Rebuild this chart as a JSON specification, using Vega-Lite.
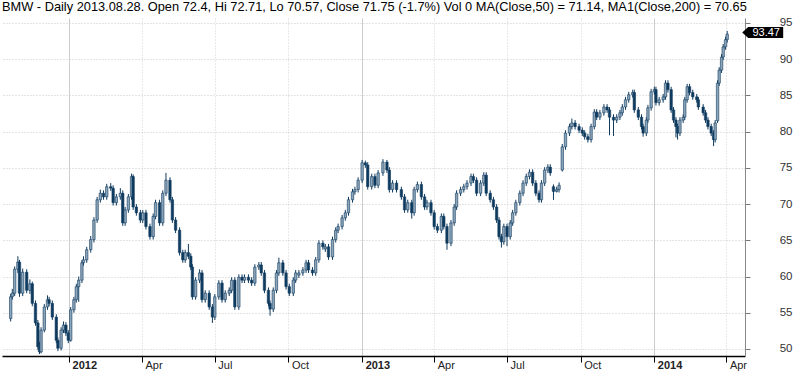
{
"$schema": "https://vega.github.io/schema/vega-lite/v6.json",
"width": 743, "height": 338,
"autosize": {"type": "none"},
"padding": {"left": 2, "top": 18, "right": 55, "bottom": 17},
"background": "white",
"title": {"text": "BMW - Daily 2013.08.28. Open 72.4, Hi 72.71, Lo 70.57, Close 71.75 (-1.7%) Vol 0 MA(Close,50) = 71.14, MA1(Close,200) = 70.65", "anchor": "start", "frame": "group", "font": "Liberation Sans", "fontSize": 12.8, "fontWeight": "normal", "color": "#000000", "offset": 3},
"config": {"view": {"stroke": null}, "axis": {"labelFont": "Liberation Sans", "labelFontSize": 11}},
"data": {"values": [
{"d":"2011-10-20","o":54.2,"h":57.6,"l":53.8,"c":57.2},
{"d":"2011-10-22","o":57.2,"h":58.3,"l":56.8,"c":57.7},
{"d":"2011-10-25","o":57.7,"h":61.4,"l":57.3,"c":61},
{"d":"2011-10-29","o":61,"h":62.8,"l":60.5,"c":62},
{"d":"2011-10-31","o":62,"h":62.3,"l":57.2,"c":57.7},
{"d":"2011-11-04","o":57.7,"h":61.1,"l":57.3,"c":60.6},
{"d":"2011-11-09","o":60.6,"h":61,"l":57.7,"c":58.1},
{"d":"2011-11-13","o":58.1,"h":59.6,"l":57.6,"c":59},
{"d":"2011-11-16","o":59,"h":59.3,"l":55.9,"c":56.3},
{"d":"2011-11-20","o":56.3,"h":56.7,"l":53.2,"c":53.6},
{"d":"2011-11-23","o":53.6,"h":54,"l":49.9,"c":50.3},
{"d":"2011-11-25","o":50.3,"h":51,"l":49.3,"c":49.6},
{"d":"2011-11-27","o":49.6,"h":53,"l":49.4,"c":52.6},
{"d":"2011-12-01","o":52.6,"h":56.2,"l":52.3,"c":55.8},
{"d":"2011-12-05","o":55.8,"h":57.4,"l":55.4,"c":56.8},
{"d":"2011-12-07","o":56.8,"h":57.2,"l":55.9,"c":56.3},
{"d":"2011-12-11","o":56.3,"h":56.7,"l":54,"c":54.4},
{"d":"2011-12-16","o":54.4,"h":54.8,"l":50.8,"c":51.2},
{"d":"2011-12-18","o":51.2,"h":51.6,"l":49.7,"c":50.1},
{"d":"2011-12-22","o":50.1,"h":53,"l":49.8,"c":52.6},
{"d":"2011-12-25","o":52.6,"h":53.8,"l":52.2,"c":53.3},
{"d":"2011-12-28","o":53.3,"h":53.7,"l":51.8,"c":52.2},
{"d":"2011-12-31","o":52.2,"h":52.6,"l":50.8,"c":51.2},
{"d":"2012-01-03","o":51.2,"h":55.8,"l":51,"c":55.4},
{"d":"2012-01-07","o":55.4,"h":57.2,"l":55,"c":56.8},
{"d":"2012-01-10","o":56.8,"h":59,"l":56.4,"c":58.6},
{"d":"2012-01-13","o":58.6,"h":60,"l":56.5,"c":59.5},
{"d":"2012-01-17","o":59.5,"h":62.3,"l":59.1,"c":61.9},
{"d":"2012-01-19","o":61.9,"h":62.8,"l":61.5,"c":62.3},
{"d":"2012-01-23","o":62.3,"h":64.1,"l":61.9,"c":63.7},
{"d":"2012-01-28","o":63.7,"h":65.6,"l":63.3,"c":65.1},
{"d":"2012-02-01","o":65.1,"h":68.2,"l":64.7,"c":67.8},
{"d":"2012-02-05","o":67.8,"h":71,"l":67.4,"c":70.6},
{"d":"2012-02-09","o":70.6,"h":72,"l":70.2,"c":71.5},
{"d":"2012-02-13","o":71.5,"h":71.9,"l":70.6,"c":71},
{"d":"2012-02-17","o":71,"h":72.8,"l":70.6,"c":72.4},
{"d":"2012-02-22","o":72.4,"h":72.9,"l":71.8,"c":72.2},
{"d":"2012-02-25","o":72.2,"h":72.6,"l":69.8,"c":70.2},
{"d":"2012-02-29","o":70.2,"h":71.4,"l":69.8,"c":71},
{"d":"2012-03-05","o":71,"h":72.2,"l":70.6,"c":71.5},
{"d":"2012-03-08","o":71.5,"h":71.9,"l":67,"c":67.4},
{"d":"2012-03-11","o":67.4,"h":69.6,"l":67,"c":69.2},
{"d":"2012-03-15","o":69.2,"h":71.4,"l":68.8,"c":71},
{"d":"2012-03-19","o":71,"h":74.2,"l":70.6,"c":73.8},
{"d":"2012-03-21","o":73.8,"h":74.1,"l":69.2,"c":69.6},
{"d":"2012-03-25","o":69.6,"h":70,"l":68.4,"c":68.8},
{"d":"2012-03-30","o":68.8,"h":69.2,"l":67.4,"c":67.8},
{"d":"2012-04-02","o":67.8,"h":69.2,"l":67.4,"c":68.8},
{"d":"2012-04-06","o":68.8,"h":69.2,"l":66.5,"c":66.9},
{"d":"2012-04-11","o":66.9,"h":67.3,"l":65.1,"c":65.5},
{"d":"2012-04-15","o":65.5,"h":68.7,"l":65.1,"c":68.3},
{"d":"2012-04-18","o":68.3,"h":70.6,"l":67.9,"c":70.2},
{"d":"2012-04-23","o":70.2,"h":70.6,"l":67,"c":67.4},
{"d":"2012-04-27","o":67.4,"h":71.9,"l":67,"c":71.5},
{"d":"2012-05-01","o":71.5,"h":74.3,"l":71.1,"c":73.3},
{"d":"2012-05-06","o":73.3,"h":73.7,"l":70.2,"c":70.6},
{"d":"2012-05-09","o":70.6,"h":71,"l":67.4,"c":67.8},
{"d":"2012-05-13","o":67.8,"h":68.2,"l":66,"c":66.4},
{"d":"2012-05-18","o":66.4,"h":66.8,"l":62.9,"c":63.3},
{"d":"2012-05-22","o":63.3,"h":63.7,"l":61.9,"c":62.3},
{"d":"2012-05-25","o":62.3,"h":63.7,"l":61.9,"c":63.3},
{"d":"2012-05-29","o":63.3,"h":64.5,"l":62.4,"c":62.8},
{"d":"2012-06-01","o":62.8,"h":63.2,"l":60.9,"c":61.3},
{"d":"2012-06-03","o":61.3,"h":61.7,"l":56.8,"c":57.2},
{"d":"2012-06-07","o":57.2,"h":59.9,"l":56.8,"c":59.5},
{"d":"2012-06-12","o":59.5,"h":61,"l":59.1,"c":60.5},
{"d":"2012-06-15","o":60.5,"h":60.9,"l":56.4,"c":56.8},
{"d":"2012-06-19","o":56.8,"h":58.1,"l":56.4,"c":57.7},
{"d":"2012-06-24","o":57.7,"h":58.1,"l":55.4,"c":55.8},
{"d":"2012-06-28","o":55.8,"h":56.2,"l":53.6,"c":54.4},
{"d":"2012-07-01","o":54.4,"h":57.6,"l":54,"c":57.2},
{"d":"2012-07-06","o":57.2,"h":59.5,"l":56.8,"c":59.1},
{"d":"2012-07-10","o":59.1,"h":59.5,"l":56.4,"c":56.8},
{"d":"2012-07-14","o":56.8,"h":58.1,"l":56.4,"c":57.7},
{"d":"2012-07-19","o":57.7,"h":58.5,"l":57.3,"c":58.1},
{"d":"2012-07-22","o":58.1,"h":59.9,"l":57.7,"c":59.5},
{"d":"2012-07-26","o":59.5,"h":59.9,"l":55.4,"c":55.8},
{"d":"2012-07-31","o":55.8,"h":60.3,"l":55.4,"c":59.9},
{"d":"2012-08-04","o":59.9,"h":60.3,"l":59.1,"c":59.5},
{"d":"2012-08-07","o":59.5,"h":60.3,"l":59.1,"c":59.9},
{"d":"2012-08-12","o":59.9,"h":60.3,"l":59.1,"c":59.5},
{"d":"2012-08-16","o":59.5,"h":59.9,"l":58.7,"c":59.1},
{"d":"2012-08-20","o":59.1,"h":61.7,"l":58.7,"c":61.3},
{"d":"2012-08-25","o":61.3,"h":62,"l":60.9,"c":61.6},
{"d":"2012-08-28","o":61.6,"h":62,"l":60.1,"c":60.5},
{"d":"2012-09-01","o":60.5,"h":60.9,"l":57.7,"c":58.1},
{"d":"2012-09-06","o":58.1,"h":58.5,"l":55.9,"c":56.3},
{"d":"2012-09-08","o":56.3,"h":56.7,"l":54.6,"c":55.5},
{"d":"2012-09-12","o":55.5,"h":58.5,"l":55.1,"c":58.1},
{"d":"2012-09-16","o":58.1,"h":60.9,"l":57.7,"c":60.5},
{"d":"2012-09-19","o":60.5,"h":62.6,"l":60.1,"c":61.9},
{"d":"2012-09-24","o":61.9,"h":62.3,"l":60.1,"c":60.5},
{"d":"2012-09-28","o":60.5,"h":60.9,"l":58.2,"c":58.6},
{"d":"2012-10-02","o":58.6,"h":59,"l":57.3,"c":57.7},
{"d":"2012-10-07","o":57.7,"h":59.9,"l":57.3,"c":59.5},
{"d":"2012-10-10","o":59.5,"h":60.9,"l":59.1,"c":60.5},
{"d":"2012-10-14","o":60.2,"h":60.9,"l":59.8,"c":60.5},
{"d":"2012-10-19","o":60.5,"h":61.3,"l":60.1,"c":60.9},
{"d":"2012-10-23","o":60.9,"h":62.3,"l":60.5,"c":61.9},
{"d":"2012-10-26","o":61.9,"h":62.3,"l":60.5,"c":60.9},
{"d":"2012-10-31","o":60.9,"h":61.3,"l":60.1,"c":60.5},
{"d":"2012-11-04","o":60.5,"h":62.7,"l":60.1,"c":62.3},
{"d":"2012-11-08","o":62.3,"h":65,"l":61.9,"c":64.6},
{"d":"2012-11-13","o":64.6,"h":65,"l":63.7,"c":64.1},
{"d":"2012-11-16","o":63.8,"h":64.5,"l":63.4,"c":64.1},
{"d":"2012-11-20","o":64.1,"h":64.5,"l":62.3,"c":62.7},
{"d":"2012-11-25","o":62.7,"h":65.5,"l":62.3,"c":65.1},
{"d":"2012-11-29","o":65.1,"h":66.8,"l":64.7,"c":66.4},
{"d":"2012-12-02","o":66.4,"h":67.3,"l":66,"c":66.9},
{"d":"2012-12-07","o":66.9,"h":68.5,"l":66.5,"c":68.1},
{"d":"2012-12-11","o":68.1,"h":69.2,"l":67.7,"c":68.8},
{"d":"2012-12-15","o":68.8,"h":71,"l":68.4,"c":70.6},
{"d":"2012-12-20","o":70.6,"h":72.1,"l":70.2,"c":71.7},
{"d":"2012-12-23","o":71.7,"h":72.4,"l":71.3,"c":72},
{"d":"2012-12-27","o":72,"h":73.7,"l":71.6,"c":73.3},
{"d":"2013-01-01","o":73.3,"h":76.1,"l":72.9,"c":75.7},
{"d":"2013-01-05","o":75.7,"h":76,"l":75,"c":75.4},
{"d":"2013-01-08","o":75.4,"h":75.8,"l":72,"c":72.4},
{"d":"2013-01-13","o":72.4,"h":74.2,"l":72,"c":73.8},
{"d":"2013-01-17","o":73.8,"h":74.2,"l":72.2,"c":72.6},
{"d":"2013-01-21","o":72.6,"h":74.7,"l":72.2,"c":74.3},
{"d":"2013-01-27","o":74.3,"h":76.2,"l":73.9,"c":75.8},
{"d":"2013-02-01","o":75.8,"h":76.1,"l":74.3,"c":74.7},
{"d":"2013-02-04","o":74.7,"h":75.1,"l":71.6,"c":72},
{"d":"2013-02-08","o":72,"h":73.3,"l":71.6,"c":72.9},
{"d":"2013-02-13","o":72.9,"h":73.3,"l":71.6,"c":72},
{"d":"2013-02-19","o":72,"h":72.4,"l":70.6,"c":71},
{"d":"2013-02-23","o":71,"h":71.4,"l":68.8,"c":69.2},
{"d":"2013-02-27","o":69.2,"h":70.6,"l":68.8,"c":70.2},
{"d":"2013-03-04","o":70.2,"h":70.6,"l":68,"c":68.8},
{"d":"2013-03-07","o":68.8,"h":72.4,"l":68.4,"c":72},
{"d":"2013-03-11","o":72,"h":73.1,"l":71.6,"c":72.7},
{"d":"2013-03-16","o":72.7,"h":73.1,"l":70.6,"c":71},
{"d":"2013-03-20","o":71,"h":71.4,"l":69.2,"c":69.6},
{"d":"2013-03-23","o":69.6,"h":70.6,"l":69.2,"c":70.2},
{"d":"2013-03-28","o":70.2,"h":70.6,"l":68.4,"c":68.8},
{"d":"2013-04-01","o":68.8,"h":69.2,"l":66.5,"c":66.9},
{"d":"2013-04-05","o":66.9,"h":67.3,"l":66,"c":66.4},
{"d":"2013-04-10","o":66.4,"h":68.7,"l":66,"c":68.3},
{"d":"2013-04-13","o":68.3,"h":68.7,"l":66.5,"c":66.9},
{"d":"2013-04-17","o":66.9,"h":67.3,"l":63.7,"c":64.6},
{"d":"2013-04-22","o":64.6,"h":67.8,"l":64.2,"c":67.4},
{"d":"2013-04-26","o":67.4,"h":70,"l":67,"c":69.6},
{"d":"2013-04-29","o":69.6,"h":71.9,"l":69.2,"c":71.5},
{"d":"2013-05-04","o":71.5,"h":72.4,"l":71.1,"c":72},
{"d":"2013-05-08","o":72,"h":72.8,"l":71.6,"c":72.4},
{"d":"2013-05-12","o":72.4,"h":73.3,"l":72,"c":72.9},
{"d":"2013-05-17","o":72.9,"h":74.2,"l":72.5,"c":73.8},
{"d":"2013-05-20","o":73.8,"h":74.2,"l":72.9,"c":73.3},
{"d":"2013-05-24","o":73.3,"h":73.7,"l":71.1,"c":71.5},
{"d":"2013-05-29","o":71.5,"h":73.3,"l":71.1,"c":72.9},
{"d":"2013-06-02","o":72.9,"h":74.4,"l":72.5,"c":74},
{"d":"2013-06-05","o":74,"h":74.4,"l":71.1,"c":71.5},
{"d":"2013-06-10","o":71.5,"h":71.9,"l":70.2,"c":70.6},
{"d":"2013-06-14","o":70.6,"h":71,"l":69.2,"c":69.6},
{"d":"2013-06-18","o":69.6,"h":70,"l":67.4,"c":67.8},
{"d":"2013-06-21","o":67.8,"h":68.2,"l":65.1,"c":65.5},
{"d":"2013-06-24","o":65.5,"h":65.9,"l":64,"c":64.8},
{"d":"2013-06-27","o":64.8,"h":67.3,"l":64.4,"c":66.9},
{"d":"2013-07-01","o":66.9,"h":67.3,"l":64.2,"c":65.5},
{"d":"2013-07-05","o":65.5,"h":67.8,"l":65.1,"c":67.4},
{"d":"2013-07-08","o":67.4,"h":69.2,"l":67,"c":68.8},
{"d":"2013-07-12","o":68.8,"h":70.6,"l":68.4,"c":70.2},
{"d":"2013-07-17","o":70.2,"h":71.9,"l":69.8,"c":71.5},
{"d":"2013-07-21","o":71.5,"h":73.3,"l":71.1,"c":72.9},
{"d":"2013-07-25","o":72.9,"h":74.2,"l":72.5,"c":73.8},
{"d":"2013-07-29","o":73.8,"h":74.8,"l":73.4,"c":74.4},
{"d":"2013-08-02","o":74.4,"h":74.8,"l":72.5,"c":72.9},
{"d":"2013-08-06","o":72.9,"h":73.3,"l":71.1,"c":71.5},
{"d":"2013-08-10","o":71.5,"h":71.9,"l":70.2,"c":70.6},
{"d":"2013-08-13","o":70.6,"h":73.3,"l":70.2,"c":72.9},
{"d":"2013-08-17","o":72.9,"h":75.1,"l":72.5,"c":74.7},
{"d":"2013-08-21","o":74.7,"h":75.5,"l":74.3,"c":75.1},
{"d":"2013-08-24","o":75.1,"h":75.5,"l":73.9,"c":74.3},
{"d":"2013-08-28","o":72.4,"h":72.71,"l":70.57,"c":71.75},
{"d":"2013-09-01","o":71.75,"h":72.4,"l":71.6,"c":72},
{"d":"2013-09-04","o":72,"h":73,"l":71.6,"c":72.6},
{"d":"2013-09-08","o":74.7,"h":78.3,"l":74.5,"c":77.9},
{"d":"2013-09-12","o":77.9,"h":80.2,"l":77.5,"c":79.8},
{"d":"2013-09-17","o":79.8,"h":81.1,"l":79.4,"c":80.7},
{"d":"2013-09-20","o":80.7,"h":81.8,"l":80.3,"c":81.2},
{"d":"2013-09-24","o":81.2,"h":81.6,"l":80.3,"c":80.7},
{"d":"2013-09-29","o":80.7,"h":81.1,"l":79.8,"c":80.2},
{"d":"2013-10-03","o":80.2,"h":80.6,"l":79.4,"c":79.8},
{"d":"2013-10-06","o":79.8,"h":80.2,"l":78.9,"c":79.3},
{"d":"2013-10-10","o":79.3,"h":79.7,"l":78.5,"c":78.9},
{"d":"2013-10-14","o":78.9,"h":81.1,"l":78.5,"c":80.7},
{"d":"2013-10-18","o":80.7,"h":83.1,"l":80.3,"c":82.7},
{"d":"2013-10-21","o":82.7,"h":83.1,"l":81.6,"c":82},
{"d":"2013-10-25","o":82,"h":83,"l":81.6,"c":82.6},
{"d":"2013-10-30","o":82.6,"h":83.8,"l":82.2,"c":83.4},
{"d":"2013-11-03","o":83.4,"h":83.8,"l":82.6,"c":83},
{"d":"2013-11-06","o":83,"h":83.4,"l":79.5,"c":82},
{"d":"2013-11-11","o":82,"h":82.4,"l":79.4,"c":81.6},
{"d":"2013-11-15","o":81.6,"h":82.4,"l":81.2,"c":82},
{"d":"2013-11-19","o":82,"h":83,"l":81.6,"c":82.6},
{"d":"2013-11-22","o":82.6,"h":83.8,"l":82.2,"c":83.4},
{"d":"2013-11-26","o":83.4,"h":84.8,"l":83,"c":84.4},
{"d":"2013-11-30","o":84.4,"h":85.5,"l":84,"c":85.1},
{"d":"2013-12-05","o":85.1,"h":85.8,"l":84.7,"c":85.4},
{"d":"2013-12-07","o":85.4,"h":85.8,"l":82.6,"c":83},
{"d":"2013-12-12","o":83,"h":83.4,"l":81.6,"c":82},
{"d":"2013-12-16","o":82,"h":82.4,"l":80.3,"c":80.7},
{"d":"2013-12-18","o":80.7,"h":81.1,"l":79.3,"c":79.8},
{"d":"2013-12-22","o":79.8,"h":82,"l":79.4,"c":81.6},
{"d":"2013-12-24","o":81.6,"h":83.7,"l":81.2,"c":83.3},
{"d":"2013-12-28","o":83.3,"h":85.9,"l":82.9,"c":85.5},
{"d":"2014-01-01","o":85.5,"h":86.2,"l":85.1,"c":85.8},
{"d":"2014-01-03","o":85.8,"h":86.2,"l":83.6,"c":84},
{"d":"2014-01-07","o":84,"h":84.8,"l":83.6,"c":84.4},
{"d":"2014-01-12","o":84.4,"h":85.2,"l":84,"c":84.8},
{"d":"2014-01-15","o":84.8,"h":87.1,"l":84.4,"c":86.7},
{"d":"2014-01-18","o":86.7,"h":87.1,"l":85.4,"c":85.8},
{"d":"2014-01-22","o":85.8,"h":86.2,"l":82.6,"c":83},
{"d":"2014-01-25","o":83,"h":83.4,"l":81.2,"c":81.6},
{"d":"2014-01-28","o":81.6,"h":82,"l":79.2,"c":80.7},
{"d":"2014-01-30","o":80.7,"h":81.1,"l":78.9,"c":79.8},
{"d":"2014-02-02","o":79.8,"h":82,"l":79.4,"c":81.6},
{"d":"2014-02-06","o":81.6,"h":82.4,"l":81.2,"c":82},
{"d":"2014-02-08","o":82,"h":84.8,"l":81.6,"c":84.4},
{"d":"2014-02-11","o":84.4,"h":86.6,"l":84,"c":86.2},
{"d":"2014-02-14","o":86.2,"h":86.6,"l":85,"c":85.4},
{"d":"2014-02-18","o":85.4,"h":85.8,"l":84.4,"c":84.8},
{"d":"2014-02-23","o":84.8,"h":85.2,"l":84,"c":84.4},
{"d":"2014-02-25","o":84.4,"h":84.8,"l":83,"c":83.4},
{"d":"2014-03-03","o":83.4,"h":83.8,"l":82.2,"c":82.6},
{"d":"2014-03-06","o":82.6,"h":83,"l":81.2,"c":81.6},
{"d":"2014-03-09","o":81.6,"h":82,"l":80.3,"c":80.7},
{"d":"2014-03-13","o":80.7,"h":81.1,"l":79.4,"c":79.8},
{"d":"2014-03-16","o":79.8,"h":80.2,"l":78,"c":78.9},
{"d":"2014-03-18","o":78.9,"h":81.6,"l":78.5,"c":81.2},
{"d":"2014-03-21","o":81.5,"h":87.1,"l":81.2,"c":86.7},
{"d":"2014-03-23","o":86.7,"h":88.9,"l":86.3,"c":88.5},
{"d":"2014-03-26","o":88.5,"h":90.7,"l":88.1,"c":90.3},
{"d":"2014-03-28","o":90.3,"h":92.1,"l":89.9,"c":91.7},
{"d":"2014-03-31","o":91.7,"h":93.1,"l":91.3,"c":92.7},
{"d":"2014-04-02","o":92.7,"h":93.9,"l":92.3,"c":93.47}
]},
"encoding": {
  "x": {"field": "d", "type": "temporal",
    "scale": {"type": "utc", "domain": [{"year": 2011, "month": 10, "date": 15, "hours": 10, "utc": true}, {"year": 2014, "month": 4, "date": 18, "utc": true}]},
    "axis": {"orient": "bottom", "title": null,
      "values": [{"year":2012,"month":1,"date":1,"utc":true},{"year":2012,"month":4,"date":1,"utc":true},{"year":2012,"month":7,"date":1,"utc":true},{"year":2012,"month":10,"date":1,"utc":true},{"year":2013,"month":1,"date":1,"utc":true},{"year":2013,"month":4,"date":1,"utc":true},{"year":2013,"month":7,"date":1,"utc":true},{"year":2013,"month":10,"date":1,"utc":true},{"year":2014,"month":1,"date":1,"utc":true},{"year":2014,"month":4,"date":1,"utc":true}],
      "labelExpr": "utcmonth(datum.value) == 0 ? utcFormat(datum.value, '%Y') : utcFormat(datum.value, '%b')",
      "labelFontWeight": {"condition": {"test": "utcmonth(datum.value) == 0", "value": "bold"}, "value": "normal"},
      "labelAlign": "left", "labelBaseline": "top", "labelOffset": 3, "labelPadding": -3, "labelFlush": false, "labelOverlap": false, "labelBound": false,
      "labelColor": "#222222", "tickSize": 6, "tickColor": "#000000", "domainColor": "#000000", "domainWidth": 1.5,
      "grid": true,
      "gridColor": {"condition": {"test": "utcmonth(datum.value) == 0", "value": "#cccccc"}, "value": "#d2d2d2"},
      "gridDash": {"condition": {"test": "utcmonth(datum.value) == 0", "value": []}, "value": [1, 2]}
    }
  },
  "y": {"field": "l", "type": "quantitative",
    "scale": {"domain": [49.03, 95.69], "nice": false, "zero": false},
    "axis": {"orient": "right", "title": null, "values": [50,55,60,65,70,75,80,85,90,95],
      "labelOverlap": false, "labelFlush": false, "labelBound": false,
      "grid": true, "gridColor": "#c8c8c8", "gridDash": [1, 2],
      "tickSize": 5, "tickColor": "#777777", "domainColor": "#888888",
      "labelAlign": "right", "labelBaseline": "middle", "labelPadding": 42, "labelColor": "#333333", "labelFontSize": 11.5}}
},
"layer": [
  {"mark": {"type": "rule", "color": "#0f3b5f", "strokeWidth": 1},
   "encoding": {"y2": {"field": "h"}}},
  {"mark": {"type": "bar", "size": 2.4, "stroke": "#0f3b5f", "strokeWidth": 0.6},
   "encoding": {
     "y": {"field": "o", "type": "quantitative", "axis": {"orient": "right", "title": null, "values": [50,55,60,65,70,75,80,85,90,95],
      "labelOverlap": false, "labelFlush": false, "labelBound": false,
      "grid": true, "gridColor": "#c8c8c8", "gridDash": [1, 2],
      "tickSize": 5, "tickColor": "#777777", "domainColor": "#888888",
      "labelAlign": "right", "labelBaseline": "middle", "labelPadding": 42, "labelColor": "#333333", "labelFontSize": 11.5}},
     "y2": {"field": "c"},
     "fill": {"condition": {"test": "datum.o > datum.c", "value": "#0f3b5f"}, "value": "#8ea6ba"}
   }},
  {"transform": [{"filter": "datum.c == 93.47"}],
   "mark": {"type": "point", "filled": true, "fill": "#000000", "opacity": 1, "size": 4, "clip": false,
     "shape": "M 15 -1.5 L 21 -7 L 56 -7 L 56 4 L 21 4 Z"},
   "encoding": {"y": {"field": "c", "type": "quantitative", "axis": {"orient": "right", "title": null, "values": [50,55,60,65,70,75,80,85,90,95],
      "labelOverlap": false, "labelFlush": false, "labelBound": false,
      "grid": true, "gridColor": "#c8c8c8", "gridDash": [1, 2],
      "tickSize": 5, "tickColor": "#777777", "domainColor": "#888888",
      "labelAlign": "right", "labelBaseline": "middle", "labelPadding": 42, "labelColor": "#333333", "labelFontSize": 11.5}}}},
  {"transform": [{"filter": "datum.c == 93.47"}],
   "mark": {"type": "text", "color": "#ffffff", "font": "Liberation Sans", "fontSize": 11, "align": "center", "baseline": "middle", "dx": 39, "dy": -1.5, "clip": false},
   "encoding": {"y": {"field": "c", "type": "quantitative", "axis": {"orient": "right", "title": null, "values": [50,55,60,65,70,75,80,85,90,95],
      "labelOverlap": false, "labelFlush": false, "labelBound": false,
      "grid": true, "gridColor": "#c8c8c8", "gridDash": [1, 2],
      "tickSize": 5, "tickColor": "#777777", "domainColor": "#888888",
      "labelAlign": "right", "labelBaseline": "middle", "labelPadding": 42, "labelColor": "#333333", "labelFontSize": 11.5}}, "text": {"field": "c", "type": "quantitative", "format": ".2f"}}}
]
}
